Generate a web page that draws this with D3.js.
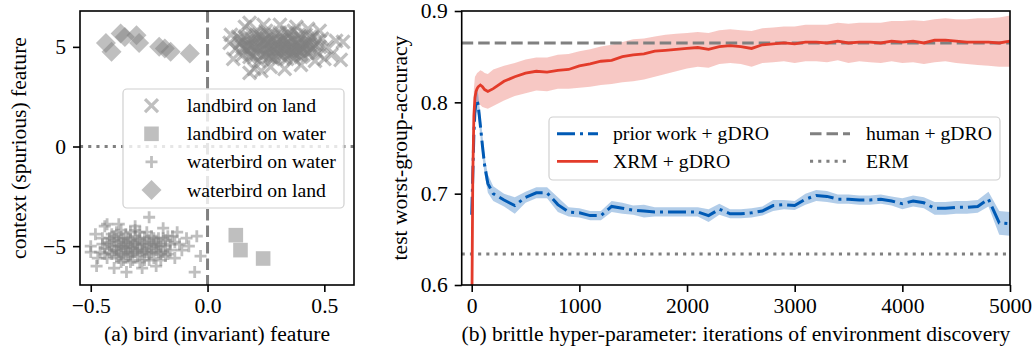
<!DOCTYPE html>
<html>
<head>
<meta charset="utf-8">
<script src="https://cdn.jsdelivr.net/npm/d3@7"></script>
<style>
  body { margin: 0; background: #fff; }
  svg text { font-family: "Liberation Serif", "DejaVu Serif", serif; fill: #000; }
</style>
</head>
<body>
<svg id="chart" width="1032" height="350"></svg>
<script>
// ---- panel (a): scatter of the toy features ----
const landOnLand = [
  [0.14,5.2],[0.17,4.8],[0.19,5.4],[0.21,5.0],[0.23,4.6],[0.24,5.3],[0.26,4.9],[0.27,5.5],[0.29,5.1],[0.30,4.7],
  [0.32,5.3],[0.33,4.9],[0.35,5.5],[0.36,5.0],[0.38,4.6],[0.39,5.2],[0.41,4.9],[0.43,5.3],[0.44,4.8],[0.16,5.5],
  [0.18,4.5],[0.20,5.7],[0.22,4.3],[0.25,5.8],[0.28,4.4],[0.31,5.7],[0.34,4.4],[0.37,5.8],[0.40,4.5],[0.42,5.6],
  [0.12,4.9],[0.15,4.6],[0.13,5.5],[0.46,5.1],[0.47,4.7],[0.45,5.5],[0.22,5.2],[0.28,5.0],[0.33,5.1],[0.25,4.7],
  [0.30,5.4],[0.36,4.8],[0.19,5.0],[0.40,5.0],[0.095,5.2],[0.11,4.4],[0.16,6.0],[0.18,6.2],[0.20,3.9],[0.18,3.7],
  [0.24,6.1],[0.31,6.1],[0.38,6.0],[0.43,5.9],[0.49,5.4],[0.51,5.0],[0.53,4.6],[0.57,4.35],[0.58,5.25],[0.55,5.3],
  [0.50,4.4],[0.27,4.0],[0.33,3.9],[0.40,4.1],[0.46,4.3],[0.23,3.8],[0.10,5.6],[0.48,5.8],[0.26,5.2],[0.35,4.6],
  [0.15,5.0],[0.17,5.3],[0.18,4.7],[0.20,5.2],[0.21,4.7],[0.23,5.5],[0.24,4.9],[0.25,5.1],[0.26,4.5],[0.27,5.3],
  [0.28,4.8],[0.29,5.6],[0.30,5.0],[0.31,4.6],[0.32,5.5],[0.33,4.7],[0.34,5.2],[0.35,4.9],[0.36,5.4],[0.37,4.7],
  [0.38,5.1],[0.39,4.8],[0.40,5.4],[0.41,4.6],[0.42,5.1],[0.43,4.7],[0.44,5.2],[0.45,4.9],[0.20,4.5],[0.22,5.6],
  [0.26,5.6],[0.34,5.7],[0.39,5.6],[0.29,4.5],[0.32,4.5],[0.37,4.4],[0.16,4.9],[0.48,5.0],[0.47,5.3],[0.14,5.4],
  [0.17,5.1],[0.19,4.6],[0.21,5.4],[0.22,4.9],[0.23,5.2],[0.24,4.6],[0.25,5.4],[0.27,4.7],[0.28,5.3],[0.29,4.8],
  [0.30,5.2],[0.31,4.9],[0.32,5.0],[0.33,5.4],[0.34,4.9],[0.35,5.2],[0.36,4.7],[0.37,5.3],[0.38,4.9],[0.39,5.4],
  [0.40,4.8],[0.41,5.2],[0.42,4.9],[0.43,5.1],[0.21,5.6],[0.18,5.1],[0.27,4.5],[0.35,5.7],[0.44,5.5],[0.15,5.3]
];
const landOnWater = [[0.121,-4.45],[0.141,-5.2],[0.238,-5.62]];
const waterOnWater = [
  [-0.42,-4.8],[-0.40,-5.2],[-0.38,-4.6],[-0.37,-5.0],[-0.35,-5.4],[-0.34,-4.8],[-0.32,-5.1],[-0.31,-4.5],[-0.30,-5.5],[-0.28,-4.9],
  [-0.27,-5.3],[-0.25,-4.7],[-0.24,-5.1],[-0.22,-4.8],[-0.21,-5.3],[-0.19,-4.6],[-0.18,-5.0],[-0.36,-5.7],[-0.33,-4.3],[-0.29,-5.8],
  [-0.26,-4.3],[-0.23,-5.6],[-0.39,-5.5],[-0.41,-4.4],[-0.44,-5.1],[-0.43,-5.6],[-0.45,-4.6],[-0.33,-5.0],[-0.36,-5.1],[-0.30,-4.9],
  [-0.16,-4.9],[-0.17,-5.4],[-0.15,-4.5],[-0.20,-5.7],[-0.48,-4.4],[-0.50,-5.0],[-0.47,-5.6],[-0.50,-5.3],[-0.475,-6.0],[-0.40,-6.1],
  [-0.347,-6.3],[-0.28,-6.1],[-0.22,-6.0],[-0.44,-4.0],[-0.38,-3.9],[-0.31,-4.0],[-0.25,-3.55],[-0.13,-4.3],[-0.12,-4.9],[-0.11,-5.2],
  [-0.14,-5.6],[-0.09,-4.6],[-0.08,-5.0],[-0.046,-4.5],[-0.03,-5.5],[-0.055,-6.3],[-0.37,-4.2],[-0.19,-4.1],[-0.43,-3.9],[-0.34,-5.3],
  [-0.43,-4.9],[-0.41,-5.4],[-0.40,-4.7],[-0.39,-5.0],[-0.38,-5.3],[-0.37,-4.7],[-0.36,-4.9],[-0.35,-5.1],[-0.34,-4.6],[-0.33,-5.4],
  [-0.32,-4.8],[-0.31,-5.3],[-0.30,-4.7],[-0.29,-5.1],[-0.28,-5.4],[-0.27,-4.6],[-0.26,-5.0],[-0.25,-5.4],[-0.24,-4.5],[-0.23,-4.9],
  [-0.22,-5.2],[-0.21,-4.6],[-0.20,-5.0],[-0.19,-5.3],[-0.18,-4.7],[-0.42,-5.3],[-0.38,-5.6],[-0.32,-5.7],[-0.27,-5.7],[-0.35,-4.4],
  [-0.29,-4.3],[-0.39,-4.3],[-0.46,-5.3],[-0.45,-4.9],[-0.16,-5.2],[-0.14,-4.8],
  [-0.41,-5.0],[-0.40,-4.5],[-0.39,-5.2],[-0.38,-4.8],[-0.37,-5.4],[-0.36,-4.6],[-0.35,-5.0],[-0.34,-5.5],[-0.33,-4.7],[-0.32,-5.3],
  [-0.31,-4.9],[-0.30,-5.2],[-0.29,-4.6],[-0.28,-5.2],[-0.27,-4.8],[-0.26,-5.3],[-0.25,-4.9],[-0.24,-5.3],[-0.23,-4.6],[-0.22,-5.0],
  [-0.21,-4.9],[-0.20,-5.4],[-0.44,-5.4],[-0.42,-4.6],[-0.37,-5.8],[-0.33,-5.8],[-0.31,-4.2],[-0.25,-5.7],[-0.18,-5.5],[-0.17,-4.5]
];
const waterOnLand = [
  [-0.435,5.2],[-0.411,4.75],[-0.372,5.67],[-0.354,5.5],[-0.304,5.58],
  [-0.293,5.2],[-0.207,5.0],[-0.183,4.92],[-0.158,4.75],[-0.076,4.67]
];
const groupNames = ['landbird on land', 'landbird on water', 'waterbird on water', 'waterbird on land'];
const groupKinds = ['x', 'square', 'plus', 'diamond'];
const aXTicks = [-0.5, 0, 0.5];
const aYTicks = [-5, 0, 5];

// ---- panel (b): worst-group accuracy vs iterations ----
const iters = [0,10,20,30,40,50,60,80,100,120,150,
  200,300,400,500,600,700,800,900,1000,1100,1200,1300,1400,1500,1600,1700,1800,1900,2000,2100,
  2200,2300,2400,2500,2600,2700,2800,2900,3000,3100,3200,3300,3400,3500,3600,3700,3800,3900,4000,4100,
  4200,4300,4400,4500,4600,4700,4800,4900,5000];
const xrmMean = [0.55,0.72,0.785,0.805,0.812,0.815,0.817,0.819,0.817,0.814,0.812,
  0.815,0.823,0.828,0.832,0.834,0.833,0.835,0.836,0.840,0.842,
  0.845,0.846,0.850,0.852,0.853,0.856,0.857,0.858,0.859,0.860,
  0.858,0.861,0.862,0.861,0.859,0.863,0.864,0.865,0.864,0.866,
  0.866,0.865,0.867,0.865,0.866,0.866,0.865,0.867,0.866,0.867,
  0.865,0.868,0.868,0.867,0.866,0.866,0.866,0.865,0.867];
const xrmHi = [0.56,0.75,0.815,0.828,0.83,0.832,0.833,0.835,0.834,0.832,0.831,
  0.836,0.840,0.843,0.847,0.849,0.849,0.852,0.853,0.856,0.858,
  0.861,0.863,0.866,0.869,0.870,0.872,0.874,0.875,0.876,0.877,
  0.876,0.879,0.880,0.879,0.878,0.881,0.882,0.883,0.883,0.885,
  0.885,0.885,0.887,0.886,0.887,0.887,0.887,0.889,0.889,0.890,
  0.889,0.891,0.892,0.891,0.891,0.892,0.892,0.893,0.895];
const xrmLo = [0.55,0.70,0.77,0.787,0.793,0.796,0.797,0.797,0.795,0.794,0.793,
  0.796,0.802,0.807,0.810,0.813,0.812,0.815,0.815,0.816,0.817,
  0.819,0.820,0.822,0.823,0.825,0.828,0.831,0.834,0.837,0.839,
  0.838,0.842,0.843,0.842,0.839,0.843,0.844,0.845,0.843,0.845,
  0.845,0.844,0.846,0.843,0.845,0.844,0.843,0.845,0.843,0.844,
  0.842,0.844,0.845,0.843,0.842,0.841,0.840,0.839,0.839];
const priorMean = [0.677,0.72,0.765,0.79,0.80,0.802,0.797,0.775,0.752,0.731,0.711,
  0.700,0.693,0.687,0.696,0.701,0.701,0.688,0.680,0.679,0.676,
  0.676,0.686,0.684,0.682,0.681,0.680,0.680,0.680,0.680,0.680,
  0.676,0.683,0.678,0.678,0.679,0.681,0.687,0.688,0.687,0.694,
  0.698,0.697,0.694,0.694,0.693,0.693,0.694,0.692,0.689,0.692,
  0.690,0.684,0.684,0.685,0.685,0.686,0.694,0.668,0.667];
const priorSpread = [0.004,0.02,0.02,0.015,0.012,0.012,0.012,0.012,0.012,0.01,0.01,
  0.008,0.007,0.009,0.006,0.006,0.006,0.008,0.005,0.005,0.005,
  0.005,0.006,0.006,0.005,0.007,0.005,0.005,0.005,0.005,0.005,
  0.007,0.006,0.005,0.005,0.005,0.005,0.006,0.005,0.005,0.006,
  0.006,0.006,0.005,0.005,0.005,0.005,0.005,0.005,0.006,0.006,
  0.006,0.007,0.007,0.007,0.007,0.007,0.008,0.013,0.013];
const humanLevel = 0.865;
const ermLevel = 0.634;
const bXTicks = [0, 1000, 2000, 3000, 4000, 5000];
const bYTicks = [0.6, 0.7, 0.8, 0.9];
const bLegend = ['prior work + gDRO', 'XRM + gDRO', 'human + gDRO', 'ERM'];

const grey = '#808080';
const blue = '#005ab5';
const red = '#e33b2a';
const tickFont = '21.6px';
const labelFont = '21.6px';
const legendFont = '19.7px';
const dashed = '11.5,5';
const dotted = '3.1,5.1';
const dashDot = '18,5,3,5';
const fmtMinus = s => s.replace('-', '\u2212');

const svg = d3.select('#chart');

// marker shapes (matplotlib-like)
function markerPath(kind) {
  if (kind === 'x') return 'M-6.5,-6.5L6.5,6.5M-6.5,6.5L6.5,-6.5';
  if (kind === 'plus') return 'M-6,0H6M0,-6V6';
  if (kind === 'square') return 'M-7.3,-7.3H7.3V7.3H-7.3Z';
  return 'M0,-10L10,0L0,10L-10,0Z';
}
function drawMarker(sel, kind) {
  const filled = kind === 'square' || kind === 'diamond';
  sel.attr('d', markerPath(kind))
    .attr('fill', filled ? grey : 'none')
    .attr('fill-opacity', 0.5)
    .attr('stroke', filled ? 'none' : grey)
    .attr('stroke-width', kind === 'plus' ? 2.8 : 3.2)
    .attr('stroke-opacity', 0.5);
}

function drawAxes(g, x, y, xTicks, yTicks, xFmt, yFmt, x0, x1, y0, y1) {
  g.append('g')
    .attr('transform', `translate(0,${y1})`)
    .call(d3.axisBottom(x).tickValues(xTicks).tickFormat(xFmt).tickSize(7).tickPadding(6))
    .call(a => a.select('.domain').remove())
    .call(a => a.selectAll('line').attr('stroke', '#000').attr('stroke-width', 1.6))
    .call(a => a.selectAll('text').style('font-size', tickFont).attr('font-family', null));
  g.append('g')
    .attr('transform', `translate(${x0},0)`)
    .call(d3.axisLeft(y).tickValues(yTicks).tickFormat(yFmt).tickSize(7).tickPadding(7))
    .call(a => a.select('.domain').remove())
    .call(a => a.selectAll('line').attr('stroke', '#000').attr('stroke-width', 1.6))
    .call(a => a.selectAll('text').style('font-size', tickFont).attr('font-family', null));
  g.append('rect')
    .attr('x', x0).attr('y', y0).attr('width', x1 - x0).attr('height', y1 - y0)
    .attr('fill', 'none').attr('stroke', '#000').attr('stroke-width', 1.6);
}

// ================= panel (a) =================
const aL = 80, aR = 354, aT = 11, aB = 285;
const xa = d3.scaleLinear().domain([-0.546, 0.627]).range([aL, aR]);
const ya = d3.scaleLinear().domain([-6.95, 6.8]).range([aB, aT]);
const ga = svg.append('g');
svg.append('clipPath').attr('id', 'clipA')
  .append('rect').attr('x', aL).attr('y', aT).attr('width', aR - aL).attr('height', aB - aT);
const pa = ga.append('g').attr('clip-path', 'url(#clipA)');

[landOnLand, landOnWater, waterOnWater, waterOnLand].forEach((pts, i) => {
  pa.append('g').selectAll('path')
    .data(pts)
    .enter().append('path')
    .attr('transform', d => `translate(${xa(d[0])},${ya(d[1])})`)
    .call(drawMarker, groupKinds[i]);
});

pa.append('line')
  .attr('x1', xa(0)).attr('x2', xa(0)).attr('y1', aT).attr('y2', aB)
  .attr('stroke', grey).attr('stroke-width', 3).attr('stroke-dasharray', dashed);
pa.append('line')
  .attr('x1', aL).attr('x2', aR).attr('y1', ya(0)).attr('y2', ya(0))
  .attr('stroke', grey).attr('stroke-width', 3).attr('stroke-dasharray', dotted);

// legend (a)
const la = ga.append('g');
la.append('rect')
  .attr('x', 123).attr('y', 89).attr('width', 221).attr('height', 119).attr('rx', 4)
  .attr('fill', '#fff').attr('fill-opacity', 0.8).attr('stroke', '#d0d0d0').attr('stroke-width', 1.2);
groupNames.forEach((name, i) => {
  const yy = 105.7 + i * 28.1;
  la.append('path').attr('transform', `translate(151.5,${yy})`).call(drawMarker, groupKinds[i]);
  la.append('text').attr('x', 187).attr('y', yy).attr('dy', '0.33em')
    .style('font-size', legendFont).text(name);
});

drawAxes(ga, xa, ya, aXTicks, aYTicks, d => fmtMinus(d3.format('.1f')(d)), d => fmtMinus(String(d)), aL, aR, aT, aB);

ga.append('text').attr('x', (aL + aR) / 2).attr('y', 341).attr('text-anchor', 'middle')
  .style('font-size', labelFont).text('(a) bird (invariant) feature');
ga.append('text').attr('transform', `translate(18,${(aT + aB) / 2}) rotate(-90)`)
  .attr('text-anchor', 'middle').attr('dy', '0.35em')
  .style('font-size', labelFont).text('context (spurious) feature');

// ================= panel (b) =================
const bL = 461.7, bR = 1010, bT = 11, bB = 285;
const xb = d3.scaleLinear().domain([-93, 5000]).range([bL, bR]);
const yb = d3.scaleLinear().domain([0.6, 0.9]).range([bB, bT]);
const gb = svg.append('g');
svg.append('clipPath').attr('id', 'clipB')
  .append('rect').attr('x', bL).attr('y', bT).attr('width', bR - bL).attr('height', bB - bT);
const pb = gb.append('g').attr('clip-path', 'url(#clipB)');

const idx = d3.range(iters.length);
const area = (lo, hi) => d3.area().x(i => xb(iters[i])).y0(i => yb(lo(i))).y1(i => yb(hi(i)));
const line = v => d3.line().x(i => xb(iters[i])).y(i => yb(v[i]));

pb.append('path').datum(idx)
  .attr('d', area(i => xrmLo[i], i => xrmHi[i]))
  .attr('fill', red).attr('fill-opacity', 0.28);
pb.append('path').datum(idx)
  .attr('d', area(i => priorMean[i] - priorSpread[i], i => priorMean[i] + priorSpread[i]))
  .attr('fill', blue).attr('fill-opacity', 0.3);

pb.append('line')
  .attr('x1', bL).attr('x2', bR).attr('y1', yb(humanLevel)).attr('y2', yb(humanLevel))
  .attr('stroke', grey).attr('stroke-width', 3).attr('stroke-dasharray', dashed);
pb.append('line')
  .attr('x1', bL).attr('x2', bR).attr('y1', yb(ermLevel)).attr('y2', yb(ermLevel))
  .attr('stroke', grey).attr('stroke-width', 3).attr('stroke-dasharray', dotted);

pb.append('path').datum(idx)
  .attr('d', line(priorMean))
  .attr('fill', 'none').attr('stroke', blue).attr('stroke-width', 3)
  .attr('stroke-dasharray', dashDot);
pb.append('path').datum(idx)
  .attr('d', line(xrmMean))
  .attr('fill', 'none').attr('stroke', red).attr('stroke-width', 2.8);

// legend (b)
const lb = gb.append('g');
lb.append('rect')
  .attr('x', 549).attr('y', 117).attr('width', 451).attr('height', 63).attr('rx', 4)
  .attr('fill', '#fff').attr('fill-opacity', 0.8).attr('stroke', '#d0d0d0').attr('stroke-width', 1.2);
const legendStyles = [
  { c: blue, w: 3, dash: dashDot },
  { c: red, w: 2.8, dash: null },
  { c: grey, w: 3, dash: dashed },
  { c: grey, w: 3, dash: dotted }
];
bLegend.forEach((name, i) => {
  const col = Math.floor(i / 2), row = i % 2;
  const lx0 = col === 0 ? 557 : 810, lx1 = col === 0 ? 598 : 850, tx = col === 0 ? 613 : 866;
  const yy = 133.7 + row * 27.6;
  const s = legendStyles[i];
  lb.append('line').attr('x1', lx0).attr('x2', lx1).attr('y1', yy).attr('y2', yy)
    .attr('stroke', s.c).attr('stroke-width', s.w).attr('stroke-dasharray', s.dash);
  lb.append('text').attr('x', tx).attr('y', yy).attr('dy', '0.33em')
    .style('font-size', legendFont).text(name);
});

drawAxes(gb, xb, yb, bXTicks, bYTicks, d3.format('d'), d3.format('.1f'), bL, bR, bT, bB);

gb.append('text').attr('x', (bL + bR) / 2).attr('y', 341).attr('text-anchor', 'middle')
  .style('font-size', labelFont).text('(b) brittle hyper-parameter: iterations of environment discovery');
gb.append('text').attr('transform', `translate(399,${(bT + bB) / 2}) rotate(-90)`)
  .attr('text-anchor', 'middle').attr('dy', '0.35em')
  .style('font-size', labelFont).text('test worst-group-accuracy');
</script>
</body>
</html>
